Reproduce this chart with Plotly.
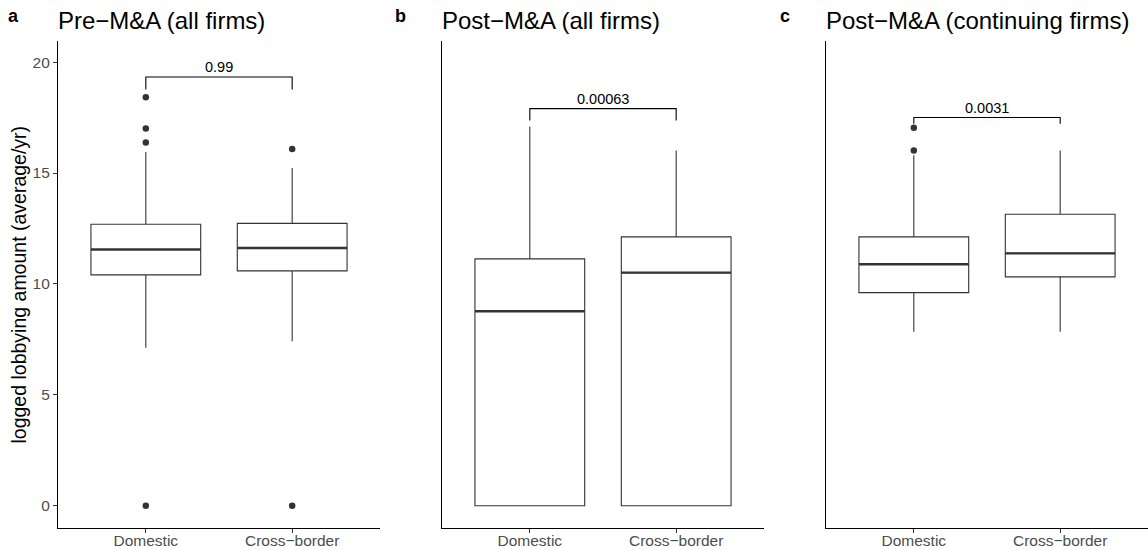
import plotly.graph_objects as go

# ---- data ----
categories = ["Domestic", "Cross\u2212border"]
panel_titles = ["Pre\u2212M&A (all firms)", "Post\u2212M&A (all firms)", "Post\u2212M&A (continuing firms)"]
panel_tags = ["a", "b", "c"]

q1 = [[10.41, 10.59], [0.0, 0.0], [9.61, 10.32]]
median = [[11.55, 11.62], [8.77, 10.51], [10.89, 11.38]]
q3 = [[12.69, 12.73], [11.13, 12.12], [12.12, 13.14]]
lower_whisker = [[7.12, 7.42], [0.0, 0.0], [7.84, 7.84]]
upper_whisker = [[15.95, 15.23], [17.1, 16.02], [15.8, 16.02]]
outliers = [
    [[18.41, 17.01, 16.37, 0.0], [16.08, 0.0]],
    [[], []],
    [[17.04, 16.02], []],
]
p_values = ["0.99", "0.00063", "0.0031"]
bracket_top = [19.33, 17.9, 17.5]
bracket_drop = [0.57, 0.53, 0.28]

# ---- layout params ----
W, H = 1148, 550
ML, MR, MT, MB = 58, 0, 41, 22
PW = W - ML - MR
PH = H - MT - MB
panel_px = [(58, 380), (442, 764), (826, 1148)]
tag_px = [13, 400, 785]
dark = "#333333"
font = "Liberation Sans, Arial, sans-serif"
box_w = 0.75


def py(ypx):
    return (H - MB - ypx) / PH


fig = go.Figure()
layout = {}
annotations = []

for p in range(3):
    xa = "x" if p == 0 else f"x{p+1}"
    ya = "y" if p == 0 else f"y{p+1}"
    for i in range(2):
        xpos = i + 1
        fig.add_trace(go.Box(
            x=[xpos], q1=[q1[p][i]], median=[median[p][i]], q3=[q3[p][i]],
            lowerfence=[lower_whisker[p][i]], upperfence=[upper_whisker[p][i]],
            width=box_w, whiskerwidth=0, fillcolor="white",
            line=dict(color=dark, width=1.1), boxpoints=False,
            xaxis=xa, yaxis=ya, showlegend=False, hoverinfo="skip"))
        fig.add_trace(go.Scatter(
            x=[xpos - box_w / 2, xpos + box_w / 2], y=[median[p][i]] * 2,
            mode="lines", line=dict(color=dark, width=2.4),
            xaxis=xa, yaxis=ya, showlegend=False, hoverinfo="skip"))
        if outliers[p][i]:
            fig.add_trace(go.Scatter(
                x=[xpos] * len(outliers[p][i]), y=outliers[p][i], mode="markers",
                marker=dict(color=dark, size=6.5),
                xaxis=xa, yaxis=ya, showlegend=False, hoverinfo="skip"))
    yt = bracket_top[p]
    yb = yt - bracket_drop[p]
    fig.add_trace(go.Scatter(
        x=[1, 1, 2, 2], y=[yb, yt, yt, yb], mode="lines",
        line=dict(color="black", width=1.1),
        xaxis=xa, yaxis=ya, showlegend=False, hoverinfo="skip"))
    annotations.append(dict(
        x=1.5, y=yt, xref=xa, yref=ya, text=p_values[p], showarrow=False,
        yanchor="bottom", yshift=0, font=dict(family=font, size=14.5, color="black")))

    x0, x1 = panel_px[p]
    dom = [(x0 - ML) / PW, min(1.0, (x1 - ML) / PW)]
    layout["xaxis" if p == 0 else f"xaxis{p+1}"] = dict(
        domain=dom, range=[0.4, 2.6], tickvals=[1, 2], ticktext=categories,
        showline=True, linecolor="black", linewidth=1.1, ticks="outside",
        ticklen=4, tickcolor=dark, tickwidth=1.1, showgrid=False, zeroline=False,
        tickfont=dict(family=font, size=15.5, color="#4D4D4D"),
        ticklabelstandoff=-6,
        anchor=ya, fixedrange=True, automargin=False)
    layout["yaxis" if p == 0 else f"yaxis{p+1}"] = dict(
        domain=[0, 1], range=[-1.0, 20.95],
        tickvals=[0, 5, 10, 15, 20] if p == 0 else [],
        showticklabels=(p == 0), ticks="outside" if p == 0 else "",
        ticklen=4, tickcolor=dark, tickwidth=1.1,
        showline=True, linecolor="black", linewidth=1.1, showgrid=False,
        zeroline=False, tickfont=dict(family=font, size=15.5, color="#4D4D4D"),
        anchor=xa, fixedrange=True, automargin=False)

    annotations.append(dict(
        x=dom[0], y=py(20), xref="paper", yref="paper", text=panel_titles[p],
        showarrow=False, xanchor="left", yanchor="middle", xshift=-2,
        font=dict(family=font, size=24, color="black")))
    annotations.append(dict(
        x=(tag_px[p] - ML) / PW, y=py(16), xref="paper", yref="paper",
        text="<b>" + panel_tags[p] + "</b>", showarrow=False,
        xanchor="center", yanchor="middle",
        font=dict(family=font, size=18, color="black")))

annotations.append(dict(
    x=(18 - ML) / PW, y=0.5, xref="paper", yref="paper",
    text="logged lobbying amount (average/yr)", textangle=-90, showarrow=False,
    xanchor="center", yanchor="middle",
    font=dict(family=font, size=19.5, color="black")))

fig.update_layout(
    width=W, height=H, margin=dict(l=ML, r=MR, t=MT, b=MB, pad=0),
    paper_bgcolor="white", plot_bgcolor="white",
    annotations=annotations, **layout)

fig.write_html("out.html", config={"displayModeBar": False},
               post_script="document.body.style.margin='0px';")
